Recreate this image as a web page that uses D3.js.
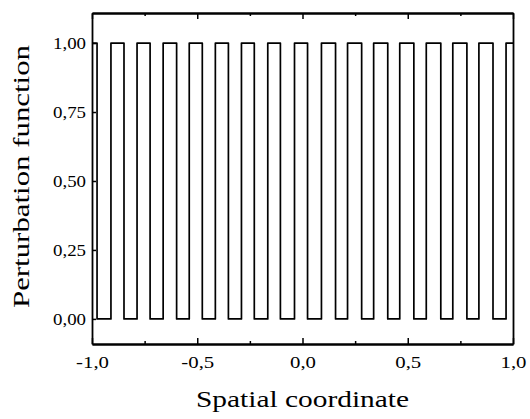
<!DOCTYPE html>
<html>
<head>
<meta charset="utf-8">
<script src="https://cdn.jsdelivr.net/npm/d3@7"></script>
<style>
  html, body { margin: 0; padding: 0; background: #fff; }
  svg { display: block; }
  text { font-family: "Liberation Serif", "DejaVu Serif", serif; fill: #000; }
</style>
</head>
<body>
<svg id="chart" width="530" height="419"></svg>
<script>
// Switching positions of the rectangular perturbation profile
const fallX = [-0.976, -0.848, -0.724, -0.598, -0.476, -0.352, -0.229, -0.105,
               0.024, 0.157, 0.281, 0.405, 0.529, 0.657, 0.781, 0.905];
const riseX = [-0.910, -0.786, -0.662, -0.538, -0.414, -0.290, -0.165, -0.038,
               0.090, 0.214, 0.338, 0.462, 0.588, 0.714, 0.838, 0.967];
const levelHigh = 1.0;
const levelLow = 0.0;

// Axis ticks and their labels
const xTicks = [-1.0, -0.5, 0.0, 0.5, 1.0];
const xTickLabels = ["-1,0", "-0,5", "0,0", "0,5", "1,0"];
const xMinorTicks = [-0.75, -0.25, 0.25, 0.75];
const yTicks = [0.0, 0.25, 0.5, 0.75, 1.0];
const yTickLabels = ["0,00", "0,25", "0,50", "0,75", "1,00"];

const xTitle = "Spatial coordinate";
const yTitle = "Perturbation function";

const svg = d3.select("#chart");
const plot = { left: 92, right: 513, top: 13, bottom: 344 };
const serif = "'Liberation Serif', 'Times New Roman', serif";

const x = d3.scaleLinear().domain([-1, 1]).range([plot.left, plot.right]);
const y = d3.scaleLinear().domain([-0.091, 1.109]).range([plot.bottom, plot.top]);

// Build the step outline: start high at the left edge, alternate down/up edges
const pts = [[-1, levelHigh]];
fallX.forEach((f, i) => {
  pts.push([f, levelHigh], [f, levelLow]);
  const r = riseX[i];
  pts.push([r, levelLow], [r, levelHigh]);
});
pts.push([1, levelHigh]);

const line = d3.line().x(d => x(d[0])).y(d => y(d[1]));

svg.append("path")
  .datum(pts)
  .attr("d", line)
  .attr("fill", "none")
  .attr("stroke", "#000")
  .attr("stroke-width", 1.7)
  .attr("stroke-linejoin", "round");

// Axes: ticks drawn inward on bottom/top/left
const fmtX = d => xTickLabels[xTicks.indexOf(d)];
const fmtY = d => yTickLabels[yTicks.indexOf(d)];

const axBottom = svg.append("g").attr("transform", `translate(0,${plot.bottom})`)
  .call(d3.axisBottom(x).tickValues(xTicks).tickFormat(fmtX).tickSizeInner(-6).tickSizeOuter(0).tickPadding(12));
const axBottomMinor = svg.append("g").attr("transform", `translate(0,${plot.bottom})`)
  .call(d3.axisBottom(x).tickValues(xMinorTicks).tickFormat("").tickSizeInner(-3).tickSizeOuter(0));
const axTop = svg.append("g").attr("transform", `translate(0,${plot.top})`)
  .call(d3.axisTop(x).tickValues(xTicks).tickFormat("").tickSizeInner(-6).tickSizeOuter(0));
const axTopMinor = svg.append("g").attr("transform", `translate(0,${plot.top})`)
  .call(d3.axisTop(x).tickValues(xMinorTicks).tickFormat("").tickSizeInner(-3).tickSizeOuter(0));
const axLeft = svg.append("g").attr("transform", `translate(${plot.left},0)`)
  .call(d3.axisLeft(y).tickValues(yTicks).tickFormat(fmtY).tickSizeInner(-4).tickSizeOuter(0).tickPadding(6));
const axRight = svg.append("g").attr("transform", `translate(${plot.right},0)`)
  .call(d3.axisRight(y).tickValues([]).tickSizeOuter(0));

[axBottom, axBottomMinor, axTop, axTopMinor, axLeft, axRight].forEach(g => {
  g.attr("font-family", serif).attr("font-size", 16);
  g.select(".domain").attr("stroke", "#000").attr("stroke-width", 1.8);
  g.selectAll(".tick line").attr("stroke", "#000").attr("stroke-width", 1.5);
  g.selectAll(".tick text").attr("fill", "#000");
});

// Widen the tick labels slightly to the printed proportions
function widen(sel, factor) {
  sel.each(function () {
    const w = this.getComputedTextLength();
    d3.select(this).attr("textLength", w * factor).attr("lengthAdjust", "spacingAndGlyphs");
  });
}
axBottom.selectAll(".tick text").attr("y", 24).attr("dy", 0);
widen(axBottom.selectAll(".tick text"), 1.3);
widen(axLeft.selectAll(".tick text"), 1.18);

// Axis titles
svg.append("text")
  .attr("x", (plot.left + plot.right) / 2)
  .attr("y", 407)
  .attr("text-anchor", "middle")
  .style("font-family", serif)
  .style("font-size", "23px")
  .attr("textLength", 213)
  .attr("lengthAdjust", "spacingAndGlyphs")
  .text(xTitle);

svg.append("text")
  .attr("transform", `translate(29,176.5) rotate(-90)`)
  .attr("text-anchor", "middle")
  .style("font-family", serif)
  .style("font-size", "23px")
  .attr("textLength", 263)
  .attr("lengthAdjust", "spacingAndGlyphs")
  .text(yTitle);
</script>
</body>
</html>
